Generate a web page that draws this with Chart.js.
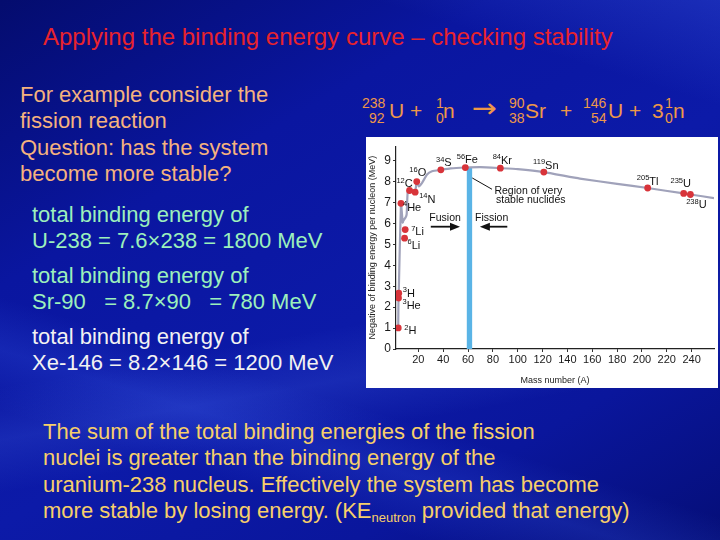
<!DOCTYPE html>
<html>
<head>
<meta charset="utf-8">
<script src="https://cdn.jsdelivr.net/npm/chart.js@4.4.1/dist/chart.umd.min.js"></script>
<style>
  html, body { margin: 0; padding: 0; }
  body {
    width: 720px; height: 540px; overflow: hidden; position: relative;
    font-family: "Liberation Sans", Arial, sans-serif;
    background:
      linear-gradient(170deg, transparent 58%, rgba(90,130,255,0.16) 66%, transparent 74%),
      linear-gradient(197deg, rgba(80,120,255,0.22) 0%, transparent 14%, transparent 68%, rgba(70,110,255,0.18) 75%, transparent 83%),
      linear-gradient(150deg, #040c6e 0%, #0a16a0 30%, #0c1aa8 55%, #0a169c 78%, #050e78 100%);
  }
  .t { position: absolute; white-space: nowrap; font-size: 22px; line-height: 26px; }
  .title { color: #e8232d; font-size: 24px; line-height: 30px; }
  .peach { color: #f5b27e; }
  .mint { color: #9cf0bc; }
  .white { color: #f2f2f2; }
  .yellow { color: #f7cf6a; }
  .eq { position: absolute; color: #ee9848; white-space: nowrap; line-height: 1; }
  .big { font-size: 21px; }
  .small { font-size: 14px; }
  .arrow { font-size: 26px; font-family: "DejaVu Sans", sans-serif; transform: scaleX(1.15); transform-origin: left center; }
  .sub { font-size: 13px; vertical-align: -4px; }
  #chartBox { position: absolute; left: 366px; top: 137px; width: 352px; height: 251px; background: #fff; }
</style>
</head>
<body>
<div class="t title" style="left:43px; top:22px;">Applying the binding energy curve – checking stability</div>

<div class="t peach" style="left:20px; top:82px;">For example consider the</div>
<div class="t peach" style="left:20px; top:108px;">fission reaction</div>
<div class="t peach" style="left:20px; top:135px;">Question: has the system</div>
<div class="t peach" style="left:20px; top:161px;">become more stable?</div>

<div class="t mint" style="left:32px; top:202px;">total binding energy of</div>
<div class="t mint" style="left:32px; top:228px;">U-238 = 7.6×238 = 1800 MeV</div>
<div class="t mint" style="left:32px; top:263px;">total binding energy of</div>
<div class="t mint" style="left:32px; top:289px;">Sr-90 &nbsp; = 8.7×90 &nbsp; = 780 MeV</div>
<div class="t white" style="left:32px; top:324px;">total binding energy of</div>
<div class="t white" style="left:32px; top:350px;">Xe-146 = 8.2×146 = 1200 MeV</div>

<div class="t yellow" style="left:43px; top:419px;">The sum of the total binding energies of the fission</div>
<div class="t yellow" style="left:43px; top:445px;">nuclei is greater than the binding energy of the</div>
<div class="t yellow" style="left:43px; top:472px;">uranium-238 nucleus. Effectively the system has become</div>
<div class="t yellow" style="left:43px; top:498px;">more stable by losing energy. (KE<span class="sub">neutron</span> provided that energy)</div>

<!-- reaction equation -->
<div class="eq small" style="left:362px; top:96px;">238</div>
<div class="eq small" style="left:369px; top:111px;">92</div>
<div class="eq big" style="left:389px; top:100px;">U</div>
<div class="eq big" style="left:410px; top:100px;">+</div>
<div class="eq small" style="left:436px; top:96px;">1</div>
<div class="eq small" style="left:436px; top:111px;">0</div>
<div class="eq big" style="left:443px; top:100px;">n</div>
<div class="eq arrow" style="left:472px; top:95px;">→</div>
<div class="eq small" style="left:509px; top:96px;">90</div>
<div class="eq small" style="left:509px; top:111px;">38</div>
<div class="eq big" style="left:525px; top:100px;">Sr</div>
<div class="eq big" style="left:560px; top:100px;">+</div>
<div class="eq small" style="left:583px; top:96px;">146</div>
<div class="eq small" style="left:591px; top:111px;">54</div>
<div class="eq big" style="left:608px; top:100px;">U</div>
<div class="eq big" style="left:629px; top:100px;">+</div>
<div class="eq big" style="left:652px; top:100px;">3</div>
<div class="eq small" style="left:665px; top:96px;">1</div>
<div class="eq small" style="left:665px; top:111px;">0</div>
<div class="eq big" style="left:673px; top:100px;">n</div>

<div id="chartBox"><canvas id="beChart"></canvas></div>

<script>
// tick values
const xTicks = [20, 40, 60, 80, 100, 120, 140, 160, 180, 200, 220, 240];
const yTicks = [0, 1, 2, 3, 4, 5, 6, 7, 8, 9];

// labelled nuclides (positions)
const massNumbers = ['2', '3', '3', '4', '6', '7', '12', '14', '16', '34', '56', '84', '119', '205', '235', '238'];
const symbols = ['H', 'H', 'He', 'He', 'Li', 'Li', 'C', 'N', 'O', 'S', 'Fe', 'Kr', 'Sn', 'Tl', 'U', 'U'];
const pointA = [3.8, 4.2, 4.0, 6.0, 8.9, 9.4, 12.9, 17.4, 18.7, 38.1, 57.8, 86, 121, 204.6, 233.6, 239];
const pointBE = [1.01, 2.67, 2.44, 6.97, 5.30, 5.71, 7.58, 7.50, 8.01, 8.57, 8.68, 8.65, 8.46, 7.70, 7.44, 7.39];

// grey curve through the nuclides
const curveA = [3.8, 4.0, 4.2, 6.0, 7.4, 8.0, 9.8, 10.6, 11.4, 12.9, 14.2, 15.6, 17.4, 18.7, 20.4, 23, 27, 31, 38.1, 46, 57.8, 70, 86, 100, 121, 150, 180, 204.6, 233.6, 239, 258];
const curveBE = [1.01, 2.44, 2.67, 6.97, 6.05, 6.15, 6.3, 6.45, 7.5, 7.6, 7.62, 7.55, 7.5, 8.01, 7.78, 7.95, 8.35, 8.5, 8.57, 8.64, 8.68, 8.7, 8.65, 8.6, 8.46, 8.15, 7.9, 7.7, 7.44, 7.39, 7.22];

// region of very stable nuclides
const stableBand = [59, 63.3];
const stableTop = 8.66;

// label placement: [mode, dx, dy] in px ('l' = starts right of point, 'c' = centred)
const labelPlacement = [
  ['l', 6, 3], ['l', 4, 0], ['l', 4, 7], ['l', 2, 4], ['l', 3, 7], ['l', 6, 2],
  ['c', -5, -7], ['l', 4, 7], ['c', 1, -9], ['c', 3, -7], ['c', 2, -8], ['c', 2, -8],
  ['c', 2, -7], ['c', 0, -7], ['c', -3, -10], ['c', 6, 10]
];

const FONT = '"Liberation Sans", Arial, sans-serif';

const labelPlugin = {
  id: 'nuclideLabels',
  afterDatasetsDraw(chart) {
    const { ctx, scales: { x, y } } = chart;
    ctx.save();
    ctx.fillStyle = '#111';
    ctx.textBaseline = 'middle';
    ctx.textAlign = 'left';
    symbols.forEach((sym, i) => {
      const [mode, dx, dy] = labelPlacement[i];
      const px = x.getPixelForValue(pointA[i]);
      const py = y.getPixelForValue(pointBE[i]);
      ctx.font = '7.5px ' + FONT;
      const supW = ctx.measureText(massNumbers[i]).width;
      ctx.font = '11px ' + FONT;
      const symW = ctx.measureText(sym).width;
      let sx = px + dx;
      if (mode === 'c') sx = px + dx - (supW + symW) / 2;
      const cy = py + dy;
      ctx.font = '7.5px ' + FONT;
      ctx.fillText(massNumbers[i], sx, cy - 3);
      ctx.font = '11px ' + FONT;
      ctx.fillText(sym, sx + supW, cy + 0.5);
    });
    ctx.restore();
  }
};

function arrow(ctx, x1, y1, x2, y2) {
  const dir = Math.sign(x2 - x1);
  ctx.beginPath();
  ctx.moveTo(x1, y1);
  ctx.lineTo(x2 - dir * 7, y2);
  ctx.stroke();
  ctx.beginPath();
  ctx.moveTo(x2, y2);
  ctx.lineTo(x2 - dir * 10, y2 - 4);
  ctx.lineTo(x2 - dir * 10, y2 + 4);
  ctx.closePath();
  ctx.fill();
}

const annotationPlugin = {
  id: 'annotations',
  beforeDatasetsDraw(chart) {
    const { ctx, scales: { x, y } } = chart;
    ctx.save();
    ctx.fillStyle = '#5ab4e6';
    const l = x.getPixelForValue(stableBand[0]);
    const r = x.getPixelForValue(stableBand[1]);
    const t = y.getPixelForValue(stableTop);
    ctx.fillRect(l, t, r - l, y.getPixelForValue(0) - t);
    ctx.restore();
  },
  afterDatasetsDraw(chart) {
    const { ctx, scales: { x, y } } = chart;
    ctx.save();
    ctx.strokeStyle = '#111';
    ctx.fillStyle = '#111';
    ctx.lineWidth = 1.8;
    const ay = y.getPixelForValue(5.85);
    arrow(ctx, x.getPixelForValue(30), ay, x.getPixelForValue(53.5), ay);
    arrow(ctx, x.getPixelForValue(91.6), ay, x.getPixelForValue(69.5), ay);

    ctx.lineWidth = 1;
    ctx.beginPath();
    ctx.moveTo(x.getPixelForValue(63.4), y.getPixelForValue(8.18));
    ctx.lineTo(x.getPixelForValue(79.3), y.getPixelForValue(7.64));
    ctx.stroke();

    ctx.textAlign = 'center';
    ctx.textBaseline = 'middle';
    ctx.font = '10.5px ' + FONT;
    ctx.fillText('Fusion', x.getPixelForValue(41.5), y.getPixelForValue(6.28));
    ctx.fillText('Fission', x.getPixelForValue(79), y.getPixelForValue(6.28));
    ctx.fillText('Region of very', x.getPixelForValue(108.5), y.getPixelForValue(7.55));
    ctx.fillText('stable nuclides', x.getPixelForValue(110.5), y.getPixelForValue(7.12));
    ctx.restore();
  }
};

const ctx = document.getElementById('beChart').getContext('2d');
new Chart(ctx, {
  type: 'line',
  data: {
    datasets: [
      {
        label: 'nuclides',
        type: 'scatter',
        data: pointA.map((a, i) => ({ x: a, y: pointBE[i] })),
        pointRadius: 3.4,
        pointBackgroundColor: '#d8343a',
        pointBorderWidth: 0,
        order: 0,
      },
      {
        label: 'curve',
        data: curveA.map((a, i) => ({ x: a, y: curveBE[i] })),
        borderColor: '#a0a2ba',
        borderWidth: 2.2,
        pointRadius: 0,
        tension: 0.15,
        fill: false,
        order: 1,
      },
    ],
  },
  options: {
    responsive: true,
    maintainAspectRatio: false,
    animation: false,
    layout: { padding: { top: 3, right: 0, left: 0, bottom: 0 } },
    plugins: {
      legend: { display: false },
      tooltip: { enabled: false },
    },
    scales: {
      x: {
        type: 'linear',
        min: 2,
        max: 258,
        afterBuildTicks: (scale) => { scale.ticks = xTicks.map((v) => ({ value: v })); },
        afterFit: (scale) => { scale.height = 39; },
        grid: { display: true, drawOnChartArea: false, drawTicks: true, tickLength: 3, color: '#333' },
        border: { color: '#222', width: 1.2 },
        ticks: { color: '#1a1a1a', padding: 1, maxRotation: 0, font: { size: 11, family: FONT } },
        title: { display: true, text: 'Mass number (A)', color: '#222', padding: { top: 0, bottom: 2 }, font: { size: 9, family: FONT } },
      },
      y: {
        min: 0,
        max: 9.7,
        afterBuildTicks: (scale) => { scale.ticks = yTicks.map((v) => ({ value: v })); },
        afterFit: (scale) => { scale.width = 30; },
        grid: { display: true, drawOnChartArea: false, drawTicks: true, tickLength: 3, color: '#333' },
        border: { color: '#222', width: 1.2 },
        ticks: { color: '#1a1a1a', padding: 2, font: { size: 12, family: FONT } },
        title: { display: true, text: 'Negative of binding energy per nucleon (MeV)', color: '#222', padding: { top: 1, bottom: 0 }, font: { size: 9, family: FONT } },
      },
    },
  },
  plugins: [annotationPlugin, labelPlugin],
});
</script>
</body>
</html>
